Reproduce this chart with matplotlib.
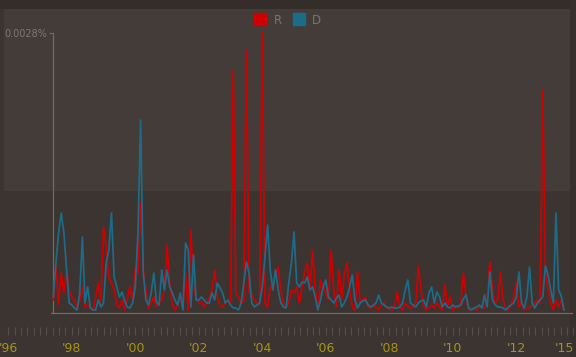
import numpy as np
import matplotlib
matplotlib.use("Agg")
import matplotlib.pyplot as plt
from matplotlib.patches import Rectangle
from matplotlib.lines import Line2D
from matplotlib.ticker import FuncFormatter

# share of coverage, in units of 0.0001 %, monthly from mid-1997
start_year = 1997 + 5 / 12

rep = [1.3, 4.6, 0.8, 4.0, 2.0, 4.3, 2.3, 1.6, 1.3, 0.5,
       1.2, 2.6, 0.6, 0.8, 0.6, 0.3, 1.5, 3.0, 1.2, 8.6,
       6.6, 3.6, 3.0, 2.3, 0.8, 0.5, 1.3, 0.3, 1.5, 2.6,
       1.3, 4.5, 4.0, 11.0, 4.3, 2.3, 0.5, 1.0, 1.6, 0.6,
       1.0, 1.3, 2.3, 6.8, 3.0, 0.8, 0.3, 0.8, 1.6, 0.5,
       4.0, 0.3, 8.3, 2.6, 1.5, 1.0, 1.1, 0.6, 1.0, 1.6,
       2.3, 4.3, 1.6, 0.8, 0.6, 1.0, 1.3, 0.8, 24.3, 2.0,
       1.6, 1.0, 1.2, 26.3, 2.0, 1.8, 1.3, 1.0, 0.8, 28.0,
       1.0, 0.6, 2.6, 2.3, 4.0, 4.6, 2.3, 0.8, 0.6, 1.0,
       2.3, 2.0, 2.6, 1.0, 2.5, 4.0, 5.0, 2.3, 6.3, 2.3,
       0.3, 3.3, 2.6, 2.0, 1.3, 6.3, 2.3, 0.6, 4.3, 1.3,
       3.8, 5.0, 2.3, 0.6, 0.3, 4.1, 1.0, 1.3, 1.6, 0.6,
       0.5, 0.8, 0.5, 0.3, 0.8, 1.0, 0.5, 0.4, 0.3, 0.6,
       2.1, 0.6, 0.3, 1.0, 0.7, 0.5, 0.6, 1.0, 4.7, 2.3,
       0.6, 0.3, 0.5, 0.8, 0.5, 1.0, 0.6, 0.3, 2.8, 0.6,
       1.6, 0.3, 0.6, 0.5, 0.8, 4.0, 1.6, 0.3, 0.5, 0.4,
       0.3, 0.6, 0.8, 0.5, 1.2, 5.1, 2.3, 1.0, 1.3, 4.1,
       1.3, 0.5, 0.3, 0.8, 1.6, 3.1, 0.6, 1.0, 0.3, 0.5,
       0.5, 0.8, 1.0, 1.3, 1.0, 22.3, 4.0, 2.3, 1.0, 0.3,
       1.3, 0.6, 1.3, 0.3]

dem = [1.6, 5.0, 8.0, 10.0, 8.0, 4.5, 1.0, 0.8, 0.5, 0.3,
       2.0, 7.6, 1.0, 2.6, 0.5, 0.3, 0.3, 1.3, 0.6, 1.0,
       5.0, 6.3, 10.0, 3.6, 2.6, 1.6, 2.1, 1.2, 0.6, 0.5,
       1.0, 2.6, 8.0, 19.3, 4.0, 1.3, 0.8, 2.0, 4.0, 1.1,
       0.8, 4.3, 2.3, 4.3, 2.6, 2.0, 1.3, 0.8, 2.0, 0.3,
       7.0, 6.3, 0.6, 5.8, 1.3, 1.3, 1.6, 1.3, 1.0, 1.0,
       2.0, 1.3, 3.0, 2.5, 2.0, 1.0, 1.3, 0.8, 0.5, 0.5,
       0.3, 1.0, 3.0, 5.1, 4.0, 1.0, 0.6, 0.8, 1.0, 2.6,
       5.6, 8.8, 4.3, 2.3, 4.3, 2.3, 1.0, 0.6, 0.5, 3.0,
       5.0, 8.1, 3.0, 2.6, 3.1, 3.0, 3.6, 2.3, 2.6, 1.6,
       0.3, 1.3, 2.6, 3.3, 1.6, 1.3, 1.0, 1.5, 1.8, 0.6,
       1.0, 1.6, 2.6, 3.8, 1.3, 0.5, 1.0, 1.2, 1.3, 0.8,
       0.6, 0.8, 1.0, 1.8, 1.0, 0.8, 0.6, 0.5, 0.6, 0.5,
       0.5, 0.6, 1.0, 2.3, 3.3, 1.0, 0.8, 0.6, 1.0, 1.2,
       1.3, 0.6, 2.0, 2.6, 1.0, 2.1, 1.6, 0.6, 1.0, 0.6,
       0.5, 0.8, 0.6, 0.7, 0.8, 1.4, 1.8, 0.5, 0.3, 0.5,
       0.6, 0.8, 0.5, 1.8, 0.6, 4.1, 1.3, 0.8, 0.6, 0.6,
       0.5, 0.3, 0.6, 0.8, 1.0, 1.6, 4.1, 1.0, 0.5, 1.6,
       4.6, 1.0, 0.5, 1.0, 1.3, 1.6, 4.7, 3.8, 2.3, 1.0,
       10.0, 2.3, 1.7, 0.3]

tick_years = [1996, 1998, 2000, 2002, 2004, 2006, 2008, 2010, 2012, 2013.52]
tick_labels = ["'96", "'98", "'00", "'02", "'04", "'06", "'08", "'10", "'12", "'15"]

t = start_year + np.arange(len(rep)) / 12

W, H = 576, 357
fig = plt.figure(figsize=(W / 100, H / 100), dpi=100)
fig.patch.set_facecolor("#3c3431")


def box(x0, y0, x1, y1, color):
    # pixel box (top-left origin) -> figure rectangle
    fig.add_artist(Rectangle((x0 / W, 1 - y1 / H), (x1 - x0) / W, (y1 - y0) / H,
                             transform=fig.transFigure, facecolor=color,
                             edgecolor="none", zorder=-2))


box(0, 0, W, 9, "#342d2a")
box(4, 9, 570, 191, "#443c39")
box(570, 0, W, H, "#37302d")

# main axes span full width so the year labels can sit left of the y axis
px0, px_per_year = 8.3, 31.75
xmin = 1996 - px0 / px_per_year
xmax = 1996 + (W - px0) / px_per_year
ax = fig.add_axes([0, 44 / H, 1, 280 / H])
ax.set_facecolor("none")
ax.set_xlim(xmin, xmax)
ax.set_ylim(0, 28)

ax.plot(t, rep, color="#d10000", lw=1.25, clip_on=False, zorder=3)
ax.plot(t, dem, color="#1c6c89", lw=1.25, clip_on=False, zorder=4)

for s in ["top", "right"]:
    ax.spines[s].set_visible(False)
ax.spines["left"].set_position(("data", t[0]))
ax.spines["left"].set_bounds(0, 28)
ax.spines["bottom"].set_bounds(t[0] - 0.08, 2013.75)
for s in ["left", "bottom"]:
    ax.spines[s].set_color("#716a67")
    ax.spines[s].set_linewidth(0.9)

ax.set_yticks([28])
ax.yaxis.set_major_formatter(FuncFormatter(lambda v, _: f"{v / 1e4:.4f}%"))
ax.tick_params(axis="y", length=3, width=0.8, color="#716a67", labelcolor="#7d7673",
               labelsize=7, pad=1)

ax.set_xticks(tick_years)
ax.set_xticklabels(tick_labels)
ax.tick_params(axis="x", length=0, pad=21, labelsize=9, labelcolor="#a89414")

# ruler marks under the axis
rul = fig.add_axes([0, (H - 336) / H, 1, 10 / H])
rul.set_xlim(xmin, xmax)
rul.set_ylim(0, 1)
rul.axis("off")
rul.vlines(np.arange(1996, 2014.8, 0.2), 0.1, 0.9, color="#554e4b", lw=0.8)

handles = [Line2D([0], [0], marker="s", ls="none", markersize=8, color="#d10000"),
           Line2D([0], [0], marker="s", ls="none", markersize=8, color="#1c6c89")]
fig.legend(handles, ["R", "D"], loc="center", bbox_to_anchor=(0.5, 1 - 20 / H),
           ncol=2, frameon=False, fontsize=8.5, labelcolor="#7a7370",
           handlelength=1.0, handletextpad=0.6, columnspacing=1.0)

fig.savefig("out.png", dpi=100, facecolor=fig.get_facecolor())
